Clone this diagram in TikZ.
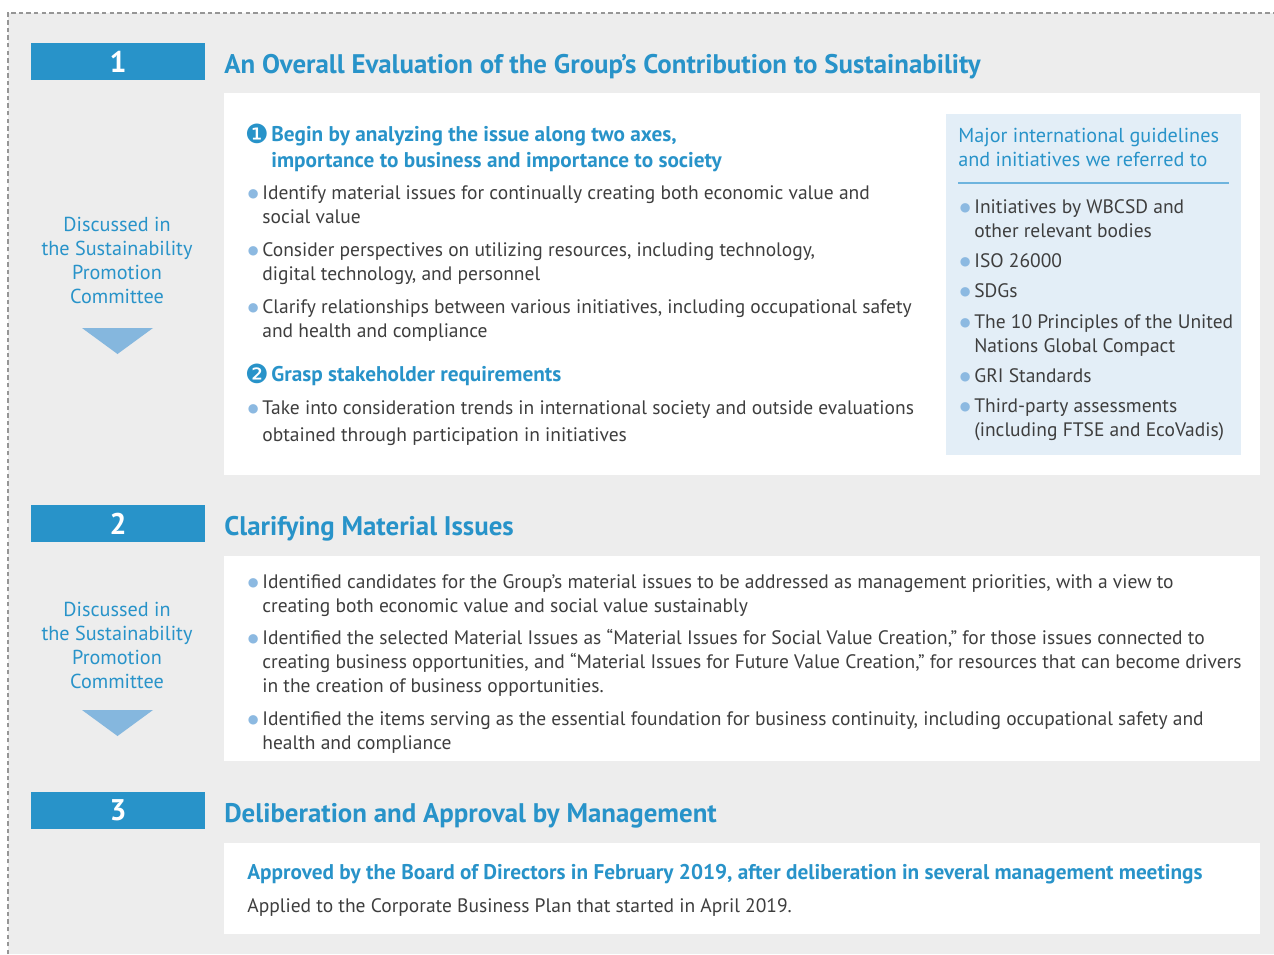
\documentclass[tikz,border=0pt]{standalone}
\usepackage{fontspec}
\setmainfont{PT Sans}
\newfontfamily\symfont{DejaVu Sans}
\usetikzlibrary{positioning,calc}
\definecolor{bggray}{RGB}{237,237,237}
\definecolor{stepblue}{RGB}{40,147,201}
\definecolor{bodygray}{RGB}{62,62,62}
\definecolor{refblue}{RGB}{227,238,247}
\definecolor{ruleblue}{RGB}{110,180,222}
\definecolor{dotblue}{RGB}{140,185,225}
\definecolor{triblue}{RGB}{133,183,222}
\definecolor{dashgray}{RGB}{150,150,150}
\newcommand{\bulletdot}{\llap{\raisebox{0.9pt}{\textcolor{dotblue}{\fontsize{7}{7}\selectfont\symfont ●}}\hspace{2.2pt}}}
\tikzset{
    numbox/.style = {
        fill=stepblue,
        text=white,
        font=\fontsize{17}{17}\selectfont\bfseries,
        minimum width=3.48cm,
        minimum height=0.74cm,
        inner sep=0
    },
    title/.style = {
        anchor=base west,
        inner sep=0,
        text=stepblue,
        font=\fontsize{15.3}{18}\selectfont\bfseries
    },
    panel/.style = {
        fill=white,
        anchor=north west,
        inner sep=0
    },
    refbox/.style = {
        fill=refblue,
        anchor=north west,
        inner sep=0
    },
    subhead/.style = {
        anchor=base west,
        inner sep=0,
        align=left,
        text=stepblue,
        font=\fontsize{12.1}{14.7}\selectfont\bfseries
    },
    circnum/.style = {
        inner sep=0,
        text=stepblue,
        font=\fontsize{15}{15}\selectfont\symfont
    },
    item/.style = {
        anchor=base west,
        inner sep=0,
        align=left,
        text=bodygray,
        font=\fontsize{11.1}{13.6}\selectfont
    },
    bluetext/.style = {
        inner sep=0,
        text=stepblue,
        font=\fontsize{11.5}{13.6}\selectfont
    },
    sidenote/.style = {
        bluetext,
        anchor=base,
        align=center
    },
    tri/.style = {fill=triblue},
    border/.style = {draw=dashgray, line width=0.6pt, dash pattern=on 2.5pt off 1.8pt}
}

\begin{document}
\begin{tikzpicture}[x=0.02cm, y=-0.02cm]
                \useasboundingbox (0,0) rectangle (1274,954);
                \fill[bggray] (8,13) rectangle (1274,954);
                \draw[border] (8,954) -- (8,13) -- (1274,13);

                % step 1
                \node[numbox] (num1) at (118,61.5) {1};
                \node[title] (title1) at (224,73) {An Overall Evaluation of the Group’s Contribution to Sustainability};
                \node[panel, minimum width=20.72cm, minimum height=7.64cm] (panel1) at (224,93) {};
                \node[sidenote] (side1) at (117,303) {Discussed in\\the Sustainability\\Promotion\\Committee};
                \fill[tri] (82,328) -- (153,328) -- (117.5,354) -- cycle;

                \node[circnum] (c1) at (257,134) {❶};
                \node[subhead] (sub1) at (271,167) {Begin by analyzing the issue along two axes,\\importance to business and importance to society};
                \node[item] (i1) at (262,223) {\bulletdot Identify material issues for continually creating both economic value and\\social value};
                \node[item] (i2) at (262,280) {\bulletdot Consider perspectives on utilizing resources, including technology,\\digital technology, and personnel};
                \node[item] (i3) at (262,337) {\bulletdot Clarify relationships between various initiatives, including occupational safety\\and health and compliance};
                \node[circnum] (c2) at (257,374) {❷};
                \node[subhead] (sub2) at (271,381) {Grasp stakeholder requirements};
                \node[item, font=\fontsize{11.1}{15.3}\selectfont] (i4) at (262,441) {\bulletdot Take into consideration trends in international society and outside evaluations\\obtained through participation in initiatives};

                \node[refbox, minimum width=5.9cm, minimum height=6.82cm] (ref) at (946,114) {};
                \node[bluetext, anchor=base west, align=left] (refhead) at (958,166) {Major international guidelines\\and initiatives we referred to};
                \coordinate (rulestart) at (958,183);
                \coordinate (ruleend) at (1229,183);
                \draw[ruleblue, line width=0.6pt] (rulestart) -- (ruleend);
                \node[item] (r1) at (974,237) {\bulletdot Initiatives by WBCSD and\\other relevant bodies};
                \node[item] (r2) at (974,267) {\bulletdot ISO 26000};
                \node[item] (r3) at (974,297) {\bulletdot SDGs};
                \node[item] (r4) at (974,352) {\bulletdot The 10 Principles of the United\\Nations Global Compact};
                \node[item] (r5) at (974,382) {\bulletdot GRI Standards};
                \node[item] (r6) at (974,436) {\bulletdot Third-party assessments\\(including FTSE and EcoVadis)};

                % step 2
                \node[numbox] (num2) at (118,523.5) {2};
                \node[title] (title2) at (224,535) {Clarifying Material Issues};
                \node[panel, minimum width=20.72cm, minimum height=4.1cm] (panel2) at (224,556) {};
                \node[sidenote] (side2) at (117,688) {Discussed in\\the Sustainability\\Promotion\\Committee};
                \fill[tri] (82,710) -- (153,710) -- (117.5,736) -- cycle;

                \node[item] (m1) at (262,612) {\bulletdot Identified candidates for the Group’s material issues to be addressed as management priorities, with a view to\\creating both economic value and social value sustainably};
                \node[item] (m2) at (262,692) {\bulletdot Identified the selected Material Issues as “Material Issues for Social Value Creation,” for those issues connected to\\creating business opportunities, and “Material Issues for Future Value Creation,” for resources that can become drivers\\in the creation of business opportunities.};
                \node[item] (m3) at (262,749) {\bulletdot Identified the items serving as the essential foundation for business continuity, including occupational safety and\\health and compliance};

                % step 3
                \node[numbox] (num3) at (118,810.5) {3};
                \node[title] (title3) at (224,822) {Deliberation and Approval by Management};
                \node[panel, minimum width=20.72cm, minimum height=1.82cm] (panel3) at (224,843) {};
                \node[subhead] (approved) at (247,879) {Approved by the Board of Directors in February 2019, after deliberation in several management meetings};
                \node[item] (applied) at (247,912) {Applied to the Corporate Business Plan that started in April 2019.};
            \end{tikzpicture}
\end{document}
